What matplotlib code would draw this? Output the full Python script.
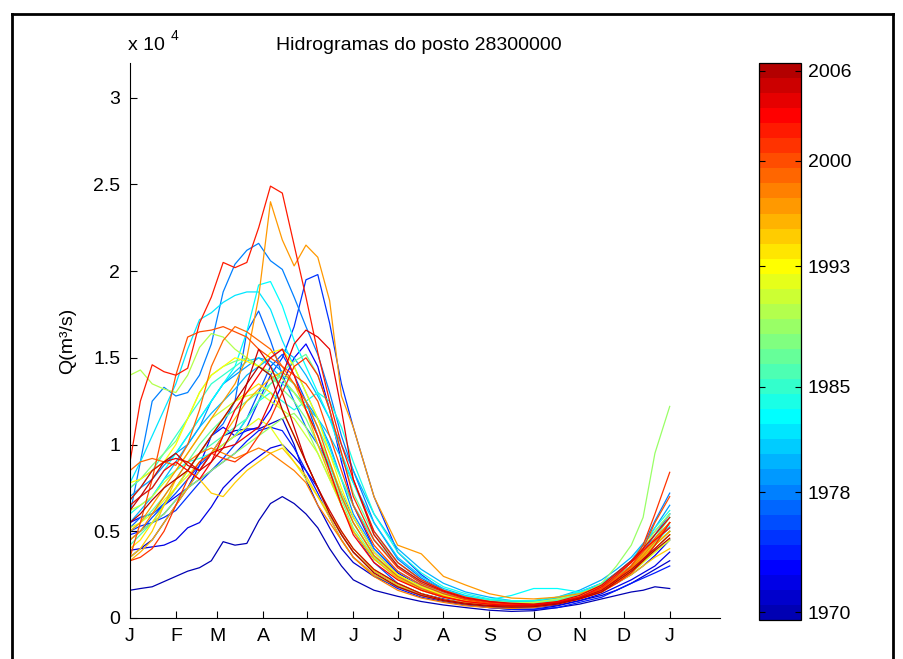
import numpy as np
import matplotlib
matplotlib.use('Agg')
import matplotlib.pyplot as plt
from matplotlib.colors import Normalize, ListedColormap
from matplotlib.lines import Line2D
import matplotlib.cm as cm

plt.rcParams['font.family'] = ['Liberation Sans', 'DejaVu Sans']

# ---------------- data (discharge in thousands of m3/s) ----------------
days = [1, 8, 16, 24, 32, 40, 48, 56, 64, 72, 80, 88, 96, 104, 112, 120, 128, 136,
        144, 152, 166, 182, 198, 213, 228, 244, 259, 274, 290, 305, 320, 330, 340,
        348, 356, 366]
month_ticks = [1, 32, 60, 91, 121, 152, 182, 213, 244, 274, 305, 335, 366]
month_labels = ['J', 'F', 'M', 'A', 'M', 'J', 'J', 'A', 'S', 'O', 'N', 'D', 'J']
ytick_vals = [0, 5000, 10000, 15000, 20000, 25000, 30000]
ytick_labels = ['0', '0.5', '1', '1.5', '2', '2.5', '3']
cbar_ticks = [1970, 1978, 1985, 1993, 2000, 2006]
years = list(range(1970, 2007))

q1970 = [1.6, 1.7, 1.8, 2.1, 2.4, 2.7, 2.9, 3.3, 4.4, 4.2, 4.3, 5.6, 6.6, 7.0, 6.6, 6.0, 5.2, 4.0, 3.0, 2.2, 1.6, 1.25, 0.95, 0.75, 0.6, 0.45, 0.38, 0.42, 0.6, 0.8, 1.1, 1.3, 1.5, 1.6, 1.8, 1.7]
q1971 = [3.5, 4.0, 4.5, 5.5, 6.5, 7.5, 8.5, 9.5, 10.5, 10.8, 10.9, 10.9, 11.2, 11.5, 10.0, 8.0, 6.5, 5.2, 4.0, 3.2, 2.4, 1.8, 1.3, 1.0, 0.8, 0.6, 0.5, 0.5, 0.7, 1.0, 1.3, 1.6, 2.0, 2.4, 2.8, 3.3]
q1972 = [3.9, 4.0, 4.1, 4.2, 4.5, 5.2, 5.5, 6.4, 7.5, 8.2, 8.8, 9.3, 9.8, 10.0, 9.3, 8.5, 7.5, 6.0, 4.8, 3.8, 2.7, 1.9, 1.4, 1.1, 0.85, 0.7, 0.6, 0.6, 0.75, 1.0, 1.4, 1.8, 2.2, 2.6, 3.0, 3.8]
q1973 = [5.5, 5.8, 6.0, 6.5, 7.0, 7.5, 8.8, 10.5, 11.0, 10.5, 10.8, 11.0, 12.0, 13.5, 15.0, 15.8, 14.5, 12.0, 9.0, 6.5, 4.0, 2.6, 1.8, 1.3, 1.0, 0.8, 0.7, 0.7, 0.85, 1.2, 1.6, 2.0, 2.5, 3.0, 3.6, 4.5]
q1974 = [4.8, 5.0, 5.5, 6.0, 6.8, 7.5, 8.0, 8.5, 9.0, 9.5, 10.2, 10.8, 11.0, 10.8, 9.8, 8.5, 7.2, 5.8, 4.5, 3.5, 2.5, 1.7, 1.2, 0.95, 0.75, 0.6, 0.5, 0.5, 0.6, 0.9, 1.2, 1.6, 2.0, 2.3, 2.6, 3.0]
q1975 = [5.0, 5.3, 5.5, 5.8, 6.2, 7.0, 7.8, 8.5, 9.2, 10.0, 11.0, 12.5, 14.0, 15.0, 16.8, 19.5, 19.8, 17.0, 13.5, 11.0, 7.0, 3.8, 2.5, 1.6, 1.2, 0.95, 0.8, 0.8, 1.0, 1.3, 1.8, 2.3, 2.8, 3.3, 4.2, 5.5]
q1976 = [4.5, 5.0, 5.8, 6.5, 7.2, 8.0, 8.8, 9.5, 10.0, 10.5, 11.5, 13.0, 14.5, 15.2, 14.0, 12.5, 10.5, 8.5, 6.5, 5.0, 3.2, 2.0, 1.4, 1.05, 0.8, 0.65, 0.6, 0.65, 0.9, 1.3, 1.8, 2.3, 2.8, 3.4, 4.2, 5.0]
q1977 = [5.2, 5.8, 6.0, 6.6, 7.5, 8.5, 9.5, 10.5, 11.2, 12.5, 16.5, 17.7, 16.0, 14.0, 12.5, 11.0, 10.0, 8.8, 7.2, 5.8, 3.8, 2.5, 1.7, 1.25, 0.95, 0.8, 0.7, 0.75, 0.95, 1.3, 1.8, 2.4, 3.0, 3.8, 4.8, 6.0]
q1978 = [6.0, 9.0, 12.5, 13.3, 12.8, 13.0, 14.0, 15.8, 18.8, 20.4, 21.2, 21.6, 20.6, 20.1, 18.5, 16.8, 15.2, 13.0, 10.5, 8.5, 5.5, 3.4, 2.3, 1.6, 1.25, 1.0, 0.9, 0.95, 1.15, 1.5, 2.0, 2.6, 3.3, 4.2, 5.6, 7.2]
q1979 = [7.0, 7.5, 8.0, 8.8, 9.5, 10.0, 11.0, 12.5, 13.5, 14.0, 14.5, 15.0, 14.8, 14.2, 13.5, 12.5, 11.5, 10.0, 8.0, 6.0, 4.0, 2.7, 1.9, 1.4, 1.1, 0.9, 0.8, 0.8, 1.0, 1.4, 2.0, 2.6, 3.3, 4.2, 5.2, 6.5]
q1980 = [5.5, 6.2, 7.0, 8.0, 9.0, 10.0, 11.0, 11.8, 12.5, 13.2, 14.0, 14.5, 15.0, 15.5, 15.0, 14.0, 12.8, 11.5, 10.0, 8.5, 6.0, 4.0, 2.8, 2.0, 1.5, 1.2, 1.0, 1.0, 1.2, 1.6, 2.2, 2.8, 3.5, 4.3, 5.0, 6.0]
q1981 = [7.5, 8.0, 8.5, 9.0, 9.5, 10.5, 11.5, 12.5, 13.5, 14.2, 14.8, 15.0, 14.5, 13.8, 13.0, 12.2, 11.5, 10.5, 9.2, 7.8, 5.5, 3.5, 2.4, 1.7, 1.3, 1.05, 0.95, 0.95, 1.1, 1.4, 1.9, 2.4, 3.0, 3.6, 4.4, 5.2]
q1982 = [7.8, 9.0, 10.5, 12.0, 13.5, 15.5, 17.2, 17.6, 18.2, 18.6, 18.8, 18.8, 17.8, 16.0, 14.5, 13.0, 11.5, 9.8, 8.0, 6.5, 4.5, 3.0, 2.1, 1.5, 1.15, 0.95, 0.85, 0.85, 1.0, 1.3, 1.8, 2.3, 2.9, 3.5, 4.2, 5.0]
q1983 = [6.5, 7.0, 7.5, 8.5, 9.5, 10.5, 11.5, 12.5, 13.5, 14.5, 16.5, 19.2, 19.4, 18.0, 16.0, 14.5, 13.0, 11.5, 9.5, 7.8, 5.0, 3.2, 2.2, 1.6, 1.25, 1.05, 1.3, 1.7, 1.7, 1.5, 1.8, 2.3, 2.9, 3.5, 4.3, 5.3]
q1984 = [6.0, 6.5, 7.0, 8.0, 8.5, 9.0, 9.2, 9.5, 10.0, 10.5, 11.5, 12.5, 13.0, 12.5, 12.0, 12.5, 13.0, 12.5, 11.0, 9.0, 6.0, 3.8, 2.6, 1.8, 1.4, 1.1, 1.0, 1.0, 1.2, 1.5, 2.0, 2.6, 3.3, 4.2, 5.2, 6.2]
q1985 = [6.8, 7.5, 8.5, 9.5, 10.5, 11.5, 12.5, 13.5, 14.0, 14.5, 15.0, 14.5, 14.0, 13.5, 13.0, 12.0, 10.5, 8.8, 7.0, 5.5, 3.6, 2.4, 1.7, 1.3, 1.0, 0.85, 0.8, 0.8, 1.0, 1.3, 1.8, 2.5, 3.2, 4.0, 4.8, 5.8]
q1986 = [4.2, 4.8, 5.5, 6.5, 7.5, 8.5, 9.5, 10.0, 10.5, 11.0, 11.5, 12.5, 13.5, 14.0, 13.5, 12.5, 11.0, 9.5, 8.0, 6.5, 4.5, 3.0, 2.0, 1.4, 1.1, 0.9, 0.8, 0.8, 0.95, 1.2, 1.6, 2.1, 2.7, 3.3, 4.0, 4.8]
q1987 = [5.0, 5.5, 6.2, 7.0, 8.0, 9.0, 10.0, 10.8, 11.5, 12.0, 12.5, 13.0, 13.5, 14.2, 14.8, 15.2, 14.0, 12.0, 9.5, 7.2, 4.8, 3.2, 2.2, 1.6, 1.2, 1.0, 0.9, 0.9, 1.05, 1.3, 1.8, 2.4, 3.0, 3.8, 4.6, 5.8]
q1988 = [7.5, 8.0, 8.8, 9.5, 10.2, 11.5, 13.0, 14.0, 14.5, 14.8, 15.0, 14.5, 14.0, 13.2, 12.5, 11.5, 10.0, 8.5, 6.8, 5.2, 3.5, 2.4, 1.7, 1.3, 1.0, 0.85, 0.8, 0.8, 0.95, 1.2, 1.6, 2.1, 2.6, 3.2, 3.8, 4.5]
q1989 = [4.5, 5.0, 5.5, 6.0, 6.8, 7.5, 8.0, 8.5, 9.0, 9.5, 10.0, 10.5, 11.0, 11.5, 11.8, 11.0, 9.5, 8.0, 6.5, 5.0, 3.4, 2.3, 1.6, 1.2, 0.95, 0.8, 0.75, 0.75, 0.9, 1.2, 2.0, 3.0, 4.2, 5.8, 9.5, 12.2]
q1990 = [14.0, 14.3, 13.5, 13.2, 13.0, 14.0, 15.6, 16.4, 16.2, 15.5, 15.0, 14.5, 14.2, 13.8, 13.0, 12.0, 10.5, 9.0, 7.2, 5.5, 3.6, 2.5, 1.8, 1.35, 1.05, 0.9, 0.85, 0.9, 1.1, 1.4, 1.9, 2.5, 3.2, 4.0, 5.0, 6.0]
q1991 = [6.2, 6.5, 7.0, 7.8, 8.5, 9.5, 10.5, 11.5, 12.0, 12.5, 12.8, 13.0, 12.5, 12.0, 11.5, 10.5, 9.5, 8.0, 6.5, 5.0, 3.4, 2.3, 1.6, 1.2, 0.95, 0.8, 0.75, 0.75, 0.9, 1.2, 1.7, 2.3, 2.9, 3.6, 4.3, 5.0]
q1992 = [5.2, 5.5, 6.0, 6.8, 7.5, 8.2, 9.0, 9.5, 10.0, 10.5, 11.0, 11.5, 11.0, 10.0, 9.0, 8.0, 7.0, 6.0, 5.0, 4.0, 2.8, 2.0, 1.4, 1.05, 0.85, 0.7, 0.65, 0.7, 0.85, 1.1, 1.5, 2.0, 2.6, 3.2, 3.8, 4.5]
q1993 = [7.8, 8.0, 8.5, 9.0, 10.0, 11.5, 13.0, 14.0, 14.5, 15.0, 14.8, 14.5, 15.3, 15.5, 14.5, 13.0, 11.5, 9.5, 7.5, 5.8, 3.8, 2.5, 1.8, 1.3, 1.0, 0.85, 0.8, 0.8, 0.95, 1.25, 1.7, 2.2, 2.8, 3.5, 4.2, 5.0]
q1994 = [4.0, 4.5, 5.5, 6.5, 7.5, 8.5, 9.5, 10.5, 11.5, 12.5, 13.0, 13.5, 13.0, 12.0, 10.5, 9.0, 7.5, 6.0, 4.8, 3.8, 2.7, 1.9, 1.4, 1.05, 0.85, 0.7, 0.65, 0.7, 0.9, 1.2, 1.6, 2.1, 2.7, 3.3, 4.0, 4.8]
q1995 = [3.5, 4.0, 5.0, 6.5, 8.0, 8.5, 8.0, 7.2, 7.0, 7.8, 8.5, 9.0, 9.5, 9.8, 9.0, 8.2, 7.0, 5.8, 4.5, 3.5, 2.5, 1.8, 1.3, 1.0, 0.8, 0.7, 0.65, 0.7, 0.85, 1.1, 1.5, 2.0, 2.5, 3.0, 3.5, 4.0]
q1996 = [3.3, 3.8, 4.5, 5.5, 6.5, 7.5, 8.5, 9.5, 10.5, 11.5, 12.5, 13.2, 13.8, 14.2, 13.5, 12.0, 10.0, 8.2, 6.5, 5.0, 3.4, 2.3, 1.6, 1.2, 0.95, 0.8, 0.75, 0.75, 0.9, 1.2, 1.7, 2.3, 3.0, 3.7, 4.5, 5.5]
q1997 = [5.0, 5.5, 6.5, 7.5, 8.5, 9.5, 10.5, 11.5, 12.5, 13.5, 15.0, 18.5, 24.0, 21.8, 20.3, 21.5, 20.8, 18.3, 12.8, 11.0, 7.0, 4.2, 3.7, 2.4, 1.9, 1.4, 1.15, 1.1, 1.2, 1.4, 1.8, 2.3, 2.9, 3.5, 4.2, 5.0]
q1998 = [4.5, 5.0, 6.0, 7.0, 8.0, 9.0, 9.5, 9.8, 9.5, 9.2, 9.5, 9.8, 9.5, 9.0, 8.5, 7.8, 6.5, 5.5, 4.5, 3.5, 2.4, 1.6, 1.15, 0.9, 0.7, 0.6, 0.55, 0.6, 0.8, 1.1, 1.6, 2.2, 2.9, 3.6, 4.4, 5.5]
q1999 = [8.5, 9.0, 9.2, 9.0, 8.8, 10.0, 12.0, 14.5, 16.0, 16.8, 16.5, 16.0, 15.5, 14.5, 13.5, 12.5, 11.0, 9.0, 7.0, 5.5, 3.6, 2.4, 1.7, 1.25, 0.95, 0.8, 0.72, 0.72, 0.9, 1.2, 1.7, 2.3, 3.0, 3.8, 4.6, 5.5]
q2000 = [3.5, 5.5, 8.0, 11.0, 14.0, 16.2, 16.5, 16.6, 16.8, 16.5, 16.2, 15.5, 15.0, 14.5, 14.0, 13.5, 12.5, 10.5, 8.5, 6.5, 4.2, 2.7, 1.9, 1.4, 1.05, 0.85, 0.75, 0.72, 0.85, 1.1, 1.6, 2.2, 3.0, 4.0, 5.5, 7.0]
q2001 = [3.3, 3.5, 4.0, 5.0, 6.5, 8.0, 9.0, 9.5, 9.2, 9.0, 9.5, 10.5, 11.5, 13.0, 14.5, 15.0, 14.0, 12.0, 9.5, 7.0, 4.5, 2.9, 2.0, 1.5, 1.1, 0.9, 0.8, 0.78, 0.9, 1.2, 1.7, 2.4, 3.2, 4.2, 6.0, 8.4]
q2002 = [9.0, 12.5, 14.6, 14.2, 14.0, 14.4, 17.0, 18.5, 20.5, 20.2, 20.5, 22.5, 24.9, 24.5, 21.5, 18.5, 15.3, 12.5, 10.0, 8.0, 5.0, 3.2, 2.2, 1.6, 1.2, 0.95, 0.8, 0.75, 0.85, 1.1, 1.5, 2.0, 2.6, 3.3, 4.2, 5.5]
q2003 = [6.5, 7.0, 7.5, 8.5, 9.0, 8.5, 8.0, 9.0, 10.5, 12.0, 13.0, 14.0, 15.0, 15.5, 14.0, 12.0, 10.5, 8.5, 6.5, 4.8, 3.2, 2.2, 1.6, 1.2, 0.95, 0.8, 0.72, 0.75, 0.9, 1.2, 1.8, 2.5, 3.2, 3.9, 4.5, 5.2]
q2004 = [6.8, 7.5, 8.5, 9.0, 9.2, 9.0, 8.5, 9.5, 9.8, 10.0, 10.5, 11.0, 12.5, 14.0, 15.8, 16.6, 16.2, 15.5, 12.0, 8.0, 4.8, 3.0, 2.1, 1.55, 1.15, 0.95, 0.85, 0.8, 0.95, 1.3, 1.9, 2.6, 3.3, 4.0, 4.8, 5.8]
q2005 = [6.2, 7.0, 8.0, 9.0, 9.5, 8.8, 8.5, 9.0, 9.8, 11.0, 13.5, 15.5, 14.5, 13.0, 11.0, 9.0, 7.5, 6.2, 5.0, 4.0, 2.8, 2.0, 1.4, 1.05, 0.85, 0.72, 0.68, 0.7, 0.85, 1.15, 1.6, 2.2, 2.8, 3.4, 4.0, 4.8]
q2006 = [5.5, 6.0, 6.8, 7.5, 8.0, 8.5, 9.5, 10.5, 11.5, 12.5, 13.5, 14.5, 14.0, 12.0, 10.5, 9.0, 7.5, 6.0, 4.8, 3.8, 2.6, 1.8, 1.3, 1.0, 0.8, 0.68, 0.62, 0.65, 0.8, 1.1, 1.5, 2.1, 2.7, 3.3, 3.9, 4.6]

flows = {1970: q1970, 1971: q1971, 1972: q1972, 1973: q1973, 1974: q1974,
         1975: q1975, 1976: q1976, 1977: q1977, 1978: q1978, 1979: q1979,
         1980: q1980, 1981: q1981, 1982: q1982, 1983: q1983, 1984: q1984,
         1985: q1985, 1986: q1986, 1987: q1987, 1988: q1988, 1989: q1989,
         1990: q1990, 1991: q1991, 1992: q1992, 1993: q1993, 1994: q1994,
         1995: q1995, 1996: q1996, 1997: q1997, 1998: q1998, 1999: q1999,
         2000: q2000, 2001: q2001, 2002: q2002, 2003: q2003, 2004: q2004,
         2005: q2005, 2006: q2006}


# ---------------- MATLAB-style jet(m) colormap ----------------
def matlab_jet(m):
    n = int(np.ceil(m / 4))
    u = np.concatenate([np.arange(1, n + 1) / n, np.ones(n - 1), np.arange(n, 0, -1) / n])
    g = int(np.ceil(n / 2)) - (1 if m % 4 == 1 else 0) + np.arange(1, len(u) + 1)
    r = g + n
    b = g - n
    g = g[g <= m]
    r = r[r <= m]
    b = b[b >= 1]
    J = np.zeros((m, 3))
    J[r - 1, 0] = u[:len(r)]
    J[g - 1, 1] = u[:len(g)]
    J[b - 1, 2] = u[len(u) - len(b):]
    return J


cmap = ListedColormap(matlab_jet(len(years)))
norm = Normalize(years[0] - 0.5, years[-1] + 0.5)

fig = plt.figure(figsize=(9.04, 6.59), dpi=100)
W, H = 904.0, 659.0
ax = fig.add_axes([130 / W, 1 - 618 / H, 590 / W, 555 / H])

for yr in years:
    ax.plot(days, np.array(flows[yr]) * 1000.0, color=cmap(norm(yr)), lw=0.9)

ax.set_xlim(1, 400)
ax.set_ylim(0, 32000)
ax.set_xticks(month_ticks)
ax.set_xticklabels(month_labels)
ax.set_yticks(ytick_vals)
ax.set_yticklabels(ytick_labels)
ax.tick_params(direction='in', length=5, width=0.8, labelsize=14, pad=7)
for s in ['top', 'right']:
    ax.spines[s].set_visible(False)
for s in ['left', 'bottom']:
    ax.spines[s].set_linewidth(0.8)

ax.set_ylabel('Q(m³/s)', fontsize=14, labelpad=12)
ax.set_title('Hidrogramas do posto 28300000', fontsize=14, pad=9, x=0.49)

fig.text(128 / W, 1 - 46 / H, 'x 10', fontsize=14, ha='left', va='center')
fig.text(171 / W, 1 - 36 / H, '4', fontsize=10, ha='left', va='center')

# colorbar
cax = fig.add_axes([759 / W, 1 - 620 / H, 42 / W, 557 / H])
sm = cm.ScalarMappable(norm=norm, cmap=cmap)
sm.set_array([])
cb = fig.colorbar(sm, cax=cax, ticks=cbar_ticks)
cb.ax.tick_params(direction='in', length=4, labelsize=14, right=True, left=True, pad=5)
cb.ax.set_yticklabels([str(t) for t in cbar_ticks])
cb.outline.set_linewidth(0.9)

# outer frame
fig.add_artist(Line2D([12 / W, 12 / W], [0, 1 - 14 / H], transform=fig.transFigure, color='black', lw=2))
fig.add_artist(Line2D([12 / W, 893 / W], [1 - 14 / H, 1 - 14 / H], transform=fig.transFigure, color='black', lw=2))
fig.add_artist(Line2D([893 / W, 893 / W], [0, 1 - 14 / H], transform=fig.transFigure, color='black', lw=2))

fig.savefig('out.png', dpi=100)
